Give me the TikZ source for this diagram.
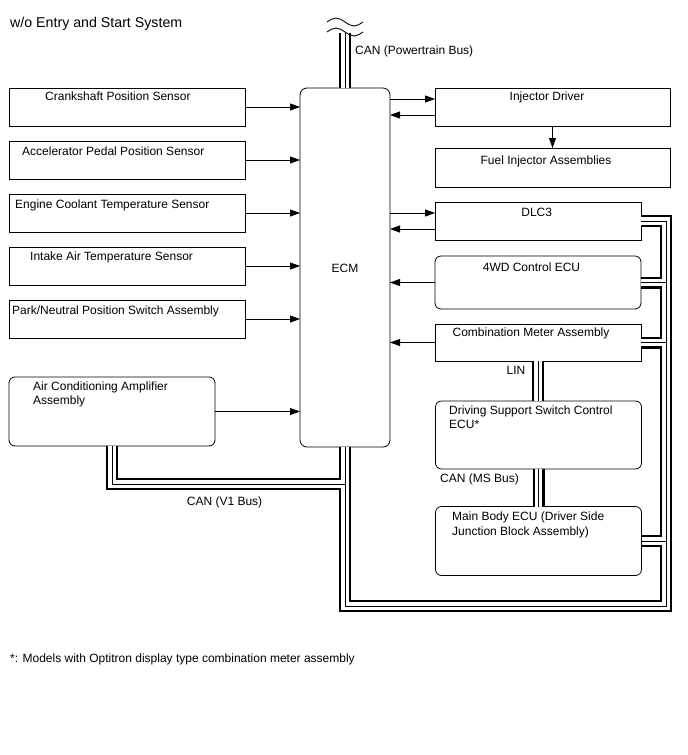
\documentclass[tikz,border=0pt]{standalone}
\usepackage{fontspec}
\setmainfont{Liberation Sans}
\usetikzlibrary{arrows.meta,calc}
\newcommand\drawbuses[1]{%
  \draw[#1] (pt) -- (ecm.north);
  \draw[#1] (ac.south) |- (v1);
  \draw[#1] (ecm.south) -- (bl) -- (br) |- (dlc.east);
  \draw[#1] (br |- w4.east) -- (w4.east);
  \draw[#1] (br |- cm.east) -- (cm.east);
  \draw[#1] (br |- mb.east) -- (mb.east);
  \draw[#1] (cm.south) -- (cm.south |- dss.north);
  \draw[#1] (dss.south) -- (dss.south |- mb.north);
}
\begin{document}
\begin{tikzpicture}[x=1pt,y=-1pt,
  font=\fontsize{12}{14}\selectfont,
  sbox/.style={draw=black, line width=0.8pt, inner sep=0pt, outer sep=0pt},
  rbox/.style={sbox, rounded corners=6pt},
  lbl/.style={anchor=base west, inner sep=0pt},
  clbl/.style={anchor=base, inner sep=0pt},
  arr/.style={-{Triangle[length=10pt,width=7pt]}, line width=0.8pt},
  busA/.style={line width=12pt, black},
  busB/.style={line width=7.6pt, white},
  busC/.style={line width=1pt, black}]
\useasboundingbox (0,0) rectangle (688,755);
\fill[white] (0,0) rectangle (688,755);

% left sensors
\node[sbox, minimum width=236pt, minimum height=38pt] (s1) at (127,107) {};
\node[sbox, minimum width=236pt, minimum height=38pt] (s2) at (127,160) {};
\node[sbox, minimum width=236pt, minimum height=38pt] (s3) at (127,213) {};
\node[sbox, minimum width=236pt, minimum height=38pt] (s4) at (127,266) {};
\node[sbox, minimum width=236pt, minimum height=38pt] (s5) at (127,319) {};
\node[rbox, minimum width=206pt, minimum height=69pt] (ac) at (112,411.5) {};

% ECM
\node[sbox, rounded corners=7pt, minimum width=90pt, minimum height=359pt] (ecm) at (345,267.5) {};

% right side
\node[sbox, minimum width=235pt, minimum height=38pt] (id) at (552.5,107) {};
\node[sbox, minimum width=235pt, minimum height=39pt] (fi) at (552.5,167.5) {};
\node[sbox, minimum width=206pt, minimum height=38pt] (dlc) at (538,221) {};
\node[rbox, minimum width=206pt, minimum height=53pt] (w4) at (538,282.5) {};
\node[sbox, minimum width=206pt, minimum height=37pt] (cm) at (538,342.5) {};
\node[rbox, minimum width=206pt, minimum height=68pt] (dss) at (538.5,435) {};
\node[rbox, minimum width=206pt, minimum height=69pt] (mb) at (538.5,541) {};

% bus coordinates
\coordinate (pt) at (345,33);
\coordinate (v1) at (345,484);
\coordinate (bl) at (345,606);
\coordinate (br) at (666,606);

\drawbuses{busA}
\drawbuses{busB}
\drawbuses{busC}

% break marks
\draw[line width=0.9pt] (327,22) sin (336,18) cos (345,22) sin (354,26) cos (363,22);
\draw[line width=0.9pt] (327,32) sin (336,28) cos (345,32) sin (354,36) cos (363,32);

% arrows to ECM
\foreach \s in {s1,s2,s3,s4,s5,ac}
  \draw[arr] (\s.east) -- (\s.east -| ecm.west);

\path ([yshift=8pt]id.west) coordinate (idin) ([yshift=-8pt]id.west) coordinate (idout);
\draw[arr] (ecm.east |- idin) -- (idin);
\draw[arr] (idout) -- (ecm.east |- idout);
\path ([yshift=8pt]dlc.west) coordinate (dlcin) ([yshift=-8pt]dlc.west) coordinate (dlcout);
\draw[arr] (ecm.east |- dlcin) -- (dlcin);
\draw[arr] (dlcout) -- (ecm.east |- dlcout);
\draw[arr] (w4.west) -- (w4.west -| ecm.east);
\draw[arr] (cm.west) -- (cm.west -| ecm.east);
\draw[arr] (id.south) -- (fi.north);

% texts
\node[lbl, font=\fontsize{14.2}{16}\selectfont] (title) at (10,27) {w/o Entry and Start System};
\node[lbl] (t1) at (45,100.3) {Crankshaft Position Sensor};
\node[lbl] (t2) at (22,155) {Accelerator Pedal Position Sensor};
\node[lbl] (t3) at (15,208.3) {Engine Coolant Temperature Sensor};
\node[lbl] (t4) at (30,260) {Intake Air Temperature Sensor};
\node[lbl] (t5) at (12,314) {Park/Neutral Position Switch Assembly};
\node[lbl] (t6) at (33,390) {Air Conditioning Amplifier};
\node[lbl] (t6b) at (33,404.3) {Assembly};
\node[anchor=center, inner sep=0pt] (tecm) at (345,268) {ECM};
\node[clbl] (tid) at (547,100.5) {Injector Driver};
\node[clbl] (tfi) at (546,164) {Fuel Injector Assemblies};
\node[clbl] (tdlc) at (536.7,216) {DLC3};
\node[clbl] (tw4) at (531.5,271) {4WD Control ECU};
\node[clbl] (tcm) at (531,336) {Combination Meter Assembly};
\node[clbl] (tlin) at (516,374) {LIN};
\node[lbl] (td1) at (449,414.3) {Driving Support Switch Control};
\node[lbl] (td2) at (449,428.3) {ECU*};
\node[lbl] (tms) at (440,482.7) {CAN (MS Bus)};
\node[lbl] (tm1) at (452,520.7) {Main Body ECU (Driver Side};
\node[lbl] (tm2) at (452,535) {Junction Block Assembly)};
\node[lbl] (tv1) at (186.7,505) {CAN (V1 Bus)};
\node[lbl] (tpt) at (355,54) {CAN (Powertrain Bus)};
\node[lbl] (foot) at (10,662) {*: Models with Optitron display type combination meter assembly};
\end{tikzpicture}
\end{document}
